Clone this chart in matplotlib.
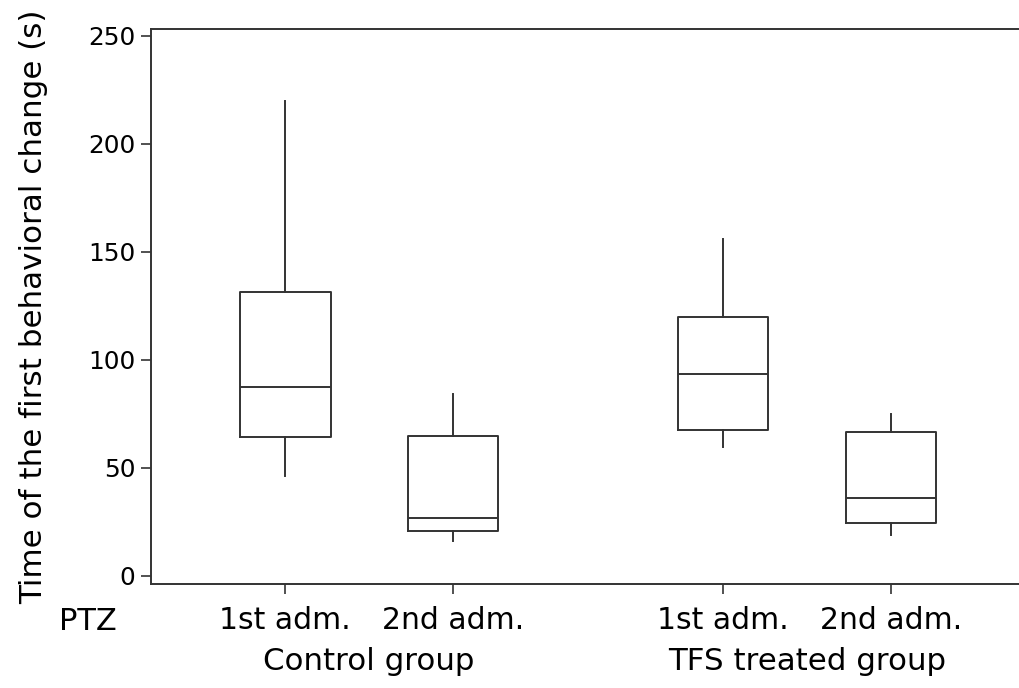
import matplotlib
matplotlib.use("Agg")
import matplotlib.pyplot as plt
from matplotlib.transforms import blended_transform_factory

plt.rcParams['font.family'] = ['DejaVu Sans']

# Data
tick_labels = ["1st adm.", "2nd adm.", "1st adm.", "2nd adm."]
groups = ["Control group", "TFS treated group"]
whisker_low = [46.3, 16.2, 59.9, 19.0]
q1 = [64.5, 20.8, 67.6, 24.4]
median = [87.6, 26.7, 93.4, 36.0]
q3 = [131.5, 64.6, 119.9, 66.8]
whisker_high = [220.0, 84.3, 156.0, 74.8]
y_ticks = [0, 50, 100, 150, 200, 250]

positions = [1.0, 2.0, 3.607, 4.607]
line_color = "#333333"

fig = plt.figure(figsize=(10.19, 6.88), dpi=100)
ax = fig.add_axes([0.1479, 0.1512, 0.8521, 0.8067])

stats = []
for i in range(4):
    stats.append(dict(whislo=whisker_low[i], q1=q1[i], med=median[i],
                      q3=q3[i], whishi=whisker_high[i], fliers=[]))

lp = dict(color=line_color, linewidth=1.4)
ax.bxp(stats, positions=positions, widths=0.54, showfliers=False,
       boxprops=lp, whiskerprops=lp, medianprops=lp,
       capprops=dict(linewidth=0), manage_ticks=False)

ax.set_xlim(0.199, 5.37)
ax.set_ylim(-3.7, 253.2)

ax.set_yticks(y_ticks)
ax.set_xticks(positions)
ax.set_xticklabels(tick_labels)

for s in ["left", "bottom", "top"]:
    ax.spines[s].set_color(line_color)
    ax.spines[s].set_linewidth(1.4)
ax.spines["right"].set_visible(False)

ax.tick_params(axis="both", direction="out", length=7, width=1.2,
               color=line_color, labelcolor="black")
ax.tick_params(axis="y", pad=4, labelsize=17.8)
ax.tick_params(axis="x", pad=9, labelsize=21.5)

ax.set_ylabel("Time of the first behavioral change (s)", fontsize=22.3)
ax.yaxis.set_label_coords(-0.118, 0.5)

# Group labels under pairs of boxes
trans = blended_transform_factory(ax.transData, fig.transFigure)
ax.text((positions[0] + positions[1]) / 2, 1 - 670 / 688, groups[0],
        transform=trans, ha="center", va="baseline", fontsize=22.2)
ax.text((positions[2] + positions[3]) / 2, 1 - 670 / 688, groups[1],
        transform=trans, ha="center", va="baseline", fontsize=22.2)
fig.text(88 / 1019, 1 - 630 / 688, "PTZ", ha="center", va="baseline", fontsize=22)

fig.savefig("out.png", dpi=100)
